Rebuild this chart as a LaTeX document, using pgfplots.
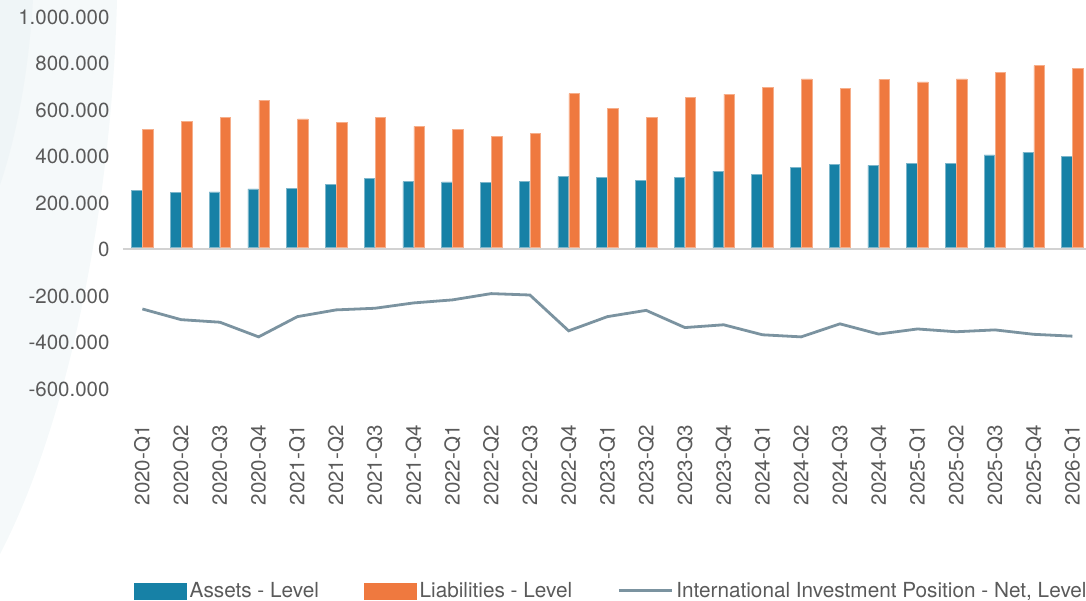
\documentclass[border=0pt]{standalone}
\usepackage{pgfplots}
\pgfplotsset{compat=1.18}
\usepackage{pgfplotstable}
\usepackage{fontspec}
\setmainfont{TeX Gyre Heros}
\definecolor{assetblue}{HTML}{1781A6}
\definecolor{assetedge}{HTML}{7DB6CB}
\definecolor{liaborange}{HTML}{EF793F}
\definecolor{liabedge}{HTML}{F6AE8A}
\definecolor{netgray}{HTML}{7B93A0}
\definecolor{txt}{HTML}{5A5A5A}
\definecolor{zeroline}{HTML}{D2D2D2}
\definecolor{swoosh}{HTML}{F5F9FA}
\definecolor{swooshb}{HTML}{EFF5F7}

\pgfplotstableread{
i assets liab net
0  247000 508000 -264000
1  236000 544000 -310000
2  239000 560000 -321000
3  252000 634000 -384000
4  256000 553000 -297000
5  272000 538000 -268000
6  298000 558000 -261000
7  283000 521000 -238000
8  282000 507000 -225000
9  279000 477000 -198000
10 286000 491000 -204000
11 305000 662000 -358000
12 303000 600000 -297000
13 290000 560000 -270000
14 302000 644000 -344000
15 329000 660000 -332000
16 316000 690000 -375000
17 343000 725000 -384000
18 359000 686000 -328000
19 353000 723000 -372000
20 363000 712000 -350000
21 363000 725000 -362000
22 398000 752000 -354000
23 409000 782000 -373000
24 392000 772000 -381000
}\data

\begin{document}
\begin{tikzpicture}
\useasboundingbox (0pt,0pt) rectangle (1086pt,601pt);
\fill[swoosh] (0pt,601pt) -- (117pt,601pt) .. controls (112pt,401pt) and (70pt,181pt) .. (0pt,47pt) -- cycle;
\fill[swooshb] (0pt,601pt) -- (33pt,601pt) .. controls (28pt,521pt) and (15pt,461pt) .. (0pt,416pt) -- cycle;
\begin{axis}[
  at={(123pt,179pt)}, anchor=south west,
  scale only axis, width=963pt, height=407pt,
  xmin=-0.5, xmax=24.35, ymin=-750000, ymax=1000000,
  scaled y ticks=false,
  axis line style={draw=none},
  major tick length=0pt, tick style={draw=none},
  clip=false,
  xtick={0,...,24},
  xticklabels={2020-Q1,2020-Q2,2020-Q3,2020-Q4,2021-Q1,2021-Q2,2021-Q3,2021-Q4,2022-Q1,2022-Q2,2022-Q3,2022-Q4,2023-Q1,2023-Q2,2023-Q3,2023-Q4,2024-Q1,2024-Q2,2024-Q3,2024-Q4,2025-Q1,2025-Q2,2025-Q3,2025-Q4,2026-Q1},
  ytick={-600000,-400000,-200000,0,200000,400000,600000,800000,1000000},
  yticklabels={-600.000,-400.000,-200.000,0,200.000,400.000,600.000,800.000,1.000.000},
  tick label style={font=\fontsize{20.5}{24}\selectfont, text=txt},
  xticklabel style={rotate=90, anchor=east},
  yticklabel style={anchor=east, xshift=-10pt, yshift=-2pt},
  legend style={at={(rel axis cs:0.0115,-0.415)}, anchor=west, draw=none, fill=none,
    inner sep=0pt, outer sep=0pt, font=\fontsize{20.75}{24}\selectfont, text=txt,
    nodes={inner sep=3pt},
    /tikz/every even column/.append style={column sep=42pt}},
  legend columns=3,
  legend cell align=left,
]
\draw[zeroline, line width=2pt] ([yshift=-1pt]axis cs:-0.5,0) -- ([yshift=-1pt]axis cs:24.35,0);
\addplot[ybar, bar width=10.5pt, bar shift=-5.5pt, fill=assetblue, draw=assetedge, line width=0.6pt,
  legend image code/.code={\fill[assetblue] (0pt,-8pt) rectangle (52pt,8pt);}]
  table[x=i,y=assets]{\data};
\addlegendentry{Assets - Level}
\addplot[ybar, bar width=10.5pt, bar shift=5.5pt, fill=liaborange, draw=liabedge, line width=0.6pt,
  legend image code/.code={\fill[liaborange] (0pt,-8pt) rectangle (52pt,8pt);}]
  table[x=i,y=liab]{\data};
\addlegendentry{Liabilities - Level}
\addplot[netgray, line width=2.8pt, mark=none,
  legend image code/.code={\draw[netgray,line width=3pt] (0pt,0pt) -- (53pt,0pt);}]
  table[x=i,y=net]{\data};
\addlegendentry{International Investment Position - Net, Level}
\end{axis}
\end{tikzpicture}
\end{document}
